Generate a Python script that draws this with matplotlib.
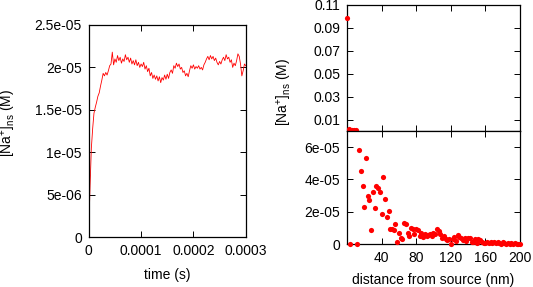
import numpy as np
import matplotlib.pyplot as plt

plt.rcParams['font.family'] = ['Liberation Sans', 'DejaVu Sans']
plt.rcParams['font.size'] = 10
plt.rcParams['mathtext.fontset'] = 'custom'
plt.rcParams['mathtext.rm'] = 'Liberation Sans'
plt.rcParams['mathtext.it'] = 'Liberation Sans'

# left panel: concentration vs time, sampled every 2.5e-6 s (values in 1e-6 M)
time_step = 2.5e-6
conc_t = [0.8, 6.0, 10.5, 12.8, 14.6, 15.3, 15.9, 16.6, 17.0, 17.8,
          18.5, 19.3, 19.0, 19.4, 19.1, 19.6, 20.2, 20.4, 21.8, 20.3,
          21.0, 20.6, 21.4, 20.8, 21.2, 20.5, 21.0, 20.7, 21.5, 20.9,
          21.2, 20.6, 21.1, 20.4, 20.8, 20.3, 20.9, 20.2, 20.6, 20.0,
          20.4, 20.1, 20.6, 19.8, 20.2, 19.5, 19.9, 19.0, 19.4, 18.7,
          19.1, 18.6, 19.0, 18.4, 18.9, 18.2, 18.8, 18.5, 19.1, 18.6,
          19.2, 18.7, 19.4, 19.7, 19.3, 20.2, 19.9, 20.5, 20.1, 20.4,
          19.8, 20.0, 19.4, 19.6, 19.0, 19.3, 18.9, 19.6, 20.2, 19.9,
          20.3, 19.8, 20.1, 19.9, 20.2, 19.8, 20.0, 19.7, 20.3, 20.6,
          21.0, 21.3, 20.9, 21.4, 21.0, 21.3, 20.8, 21.1, 20.6, 20.3,
          20.7, 20.4, 20.9, 21.2, 20.8, 21.5, 21.0, 21.2, 20.6, 20.9,
          20.0, 20.5, 20.2, 20.8, 21.6, 21.3, 20.4, 19.0, 19.6, 20.4,
          20.2]
time_ticks = [0, 0.0001, 0.0002, 0.0003]
time_ticklabels = ['0', '0.0001', '0.0002', '0.0003']
conc_ticks_left = [0, 5e-6, 1e-5, 1.5e-5, 2e-5, 2.5e-5]
conc_ticklabels_left = ['0', '5e-06', '1e-05', '1.5e-05', '2e-05', '2.5e-05']

# right panel: concentration vs distance from source
distance = list(range(0, 202, 2))
conc_d = [0.099, 0.0021, 0.0, 0.0011, 0.0008, 0.0006, 0.0,
          58.5e-6, 45e-6, 36e-6, 23e-6, 53e-6, 29.5e-6, 27.5e-6, 8.5e-6,
          32e-6, 22.5e-6, 36e-6, 34.5e-6, 32e-6, 18.5e-6, 41.5e-6, 28e-6,
          16.5e-6, 20.5e-6, 9.5e-6, 9e-6, 8.5e-6, 12.5e-6, 1.5e-6, 7e-6,
          4e-6, 3e-6, 13e-6, 12.5e-6,
          7.0e-6, 5.0e-6, 10.0e-6, 9.5e-6, 6.0e-6, 9.0e-6, 8.5e-6, 5.0e-6,
          7.0e-6, 4.5e-6, 6.0e-6, 5.0e-6, 5.5e-6, 6.5e-6, 5.0e-6, 7.0e-6,
          6.0e-6, 9.5e-6, 8.0e-6, 6.0e-6, 4.0e-6, 5.0e-6, 3.0e-6, 2.5e-6,
          3.0e-6, 0.3e-6, 3.0e-6, 4.5e-6, 2.0e-6, 5.5e-6, 4.5e-6, 3.5e-6,
          2.5e-6, 3.5e-6, 2.0e-6, 4.0e-6, 4.0e-6, 1.5e-6, 1.0e-6, 3.0e-6,
          0.5e-6, 3.0e-6, 2.5e-6, 1.0e-6, 0.5e-6, 0.8e-6, 1.0e-6, 0.5e-6,
          1.2e-6, 0.6e-6, 1.0e-6, 0.4e-6, 1.2e-6, 0.5e-6, 0.3e-6, 1.0e-6,
          0.5e-6, 0.2e-6, 0.8e-6, 0.3e-6, 0.6e-6, 0.2e-6, 0.4e-6, 0.1e-6,
          0.3e-6, 0.2e-6]
top_ticks = [0.01, 0.03, 0.05, 0.07, 0.09, 0.11]
top_ticklabels = ['0.01', '0.03', '0.05', '0.07', '0.09', '0.11']
bottom_ticks = [0, 2e-5, 4e-5, 6e-5]
bottom_ticklabels = ['0', '2e-05', '4e-05', '6e-05']
dist_ticks = [0, 40, 80, 120, 160, 200]
dist_ticklabels = ['', '40', '80', '120', '160', '200']

ylabel = r'[Na$^{+}$]$_{\rm ns}$ (M)'

fig = plt.figure(figsize=(5.33, 2.87), dpi=100)


def style(ax):
    ax.tick_params(direction='in', length=4, width=0.7, top=True, right=True,
                   pad=5, colors='black')
    for s in ax.spines.values():
        s.set_linewidth(0.9)


# left
ax1 = fig.add_axes([0.1665, 0.1742, 0.2946, 0.7387])
t = np.arange(len(conc_t)) * time_step
ax1.plot(t, np.array(conc_t) * 1e-6, color='red', lw=0.6)
ax1.set_xlim(0, 0.0003)
ax1.set_ylim(0, 2.5e-5)
ax1.set_xticks(time_ticks)
ax1.set_xticklabels(time_ticklabels)
ax1.set_yticks(conc_ticks_left)
ax1.set_yticklabels(conc_ticklabels_left)
ax1.set_xlabel('time (s)', labelpad=7)
style(ax1)

d = np.array(distance)
c = np.array(conc_d)
split = 7e-5

# right top
ax2 = fig.add_axes([0.651, 0.5436, 0.3246, 0.4390])
m = c > split
ax2.scatter(d[m], c[m], s=14, color='red', lw=0, clip_on=False, zorder=3)
ax2.set_xlim(0, 200)
ax2.set_ylim(0, 0.11)
ax2.set_xticks(dist_ticks)
ax2.set_xticklabels([])
ax2.set_yticks(top_ticks)
ax2.set_yticklabels(top_ticklabels)
style(ax2)

# right bottom
ax3 = fig.add_axes([0.651, 0.1498, 0.3246, 0.3938])
ax3.scatter(d[~m], c[~m], s=14, color='red', lw=0, clip_on=False, zorder=3)
ax3.set_xlim(0, 200)
ax3.set_ylim(0, 7e-5)
ax3.set_xticks(dist_ticks)
ax3.set_xticklabels(dist_ticklabels)
ax3.set_yticks(bottom_ticks)
ax3.set_yticklabels(bottom_ticklabels)
ax3.set_xlabel('distance from source (nm)', labelpad=6)
style(ax3)

fig.text(9 / 533, 1 - 123 / 287, ylabel, rotation=90, ha='center', va='center')
fig.text(284 / 533, 1 - 92 / 287, ylabel, rotation=90, ha='center', va='center')

fig.savefig('out.png', dpi=100)
